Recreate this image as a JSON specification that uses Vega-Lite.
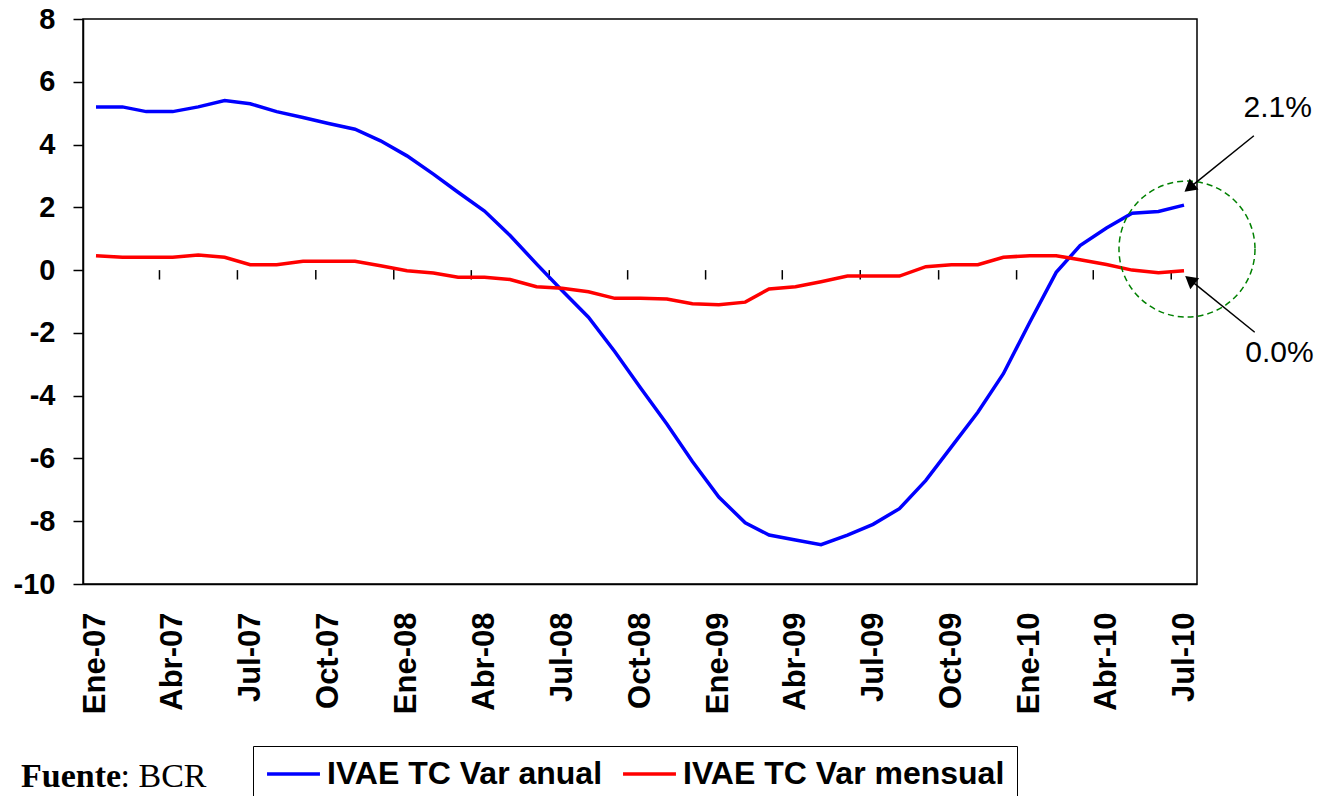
{
  "$schema": "https://vega.github.io/schema/vega-lite/v6.json",
  "autosize": "none",
  "padding": {"left": 83, "top": 19, "right": 126, "bottom": 212},
  "width": 1114,
  "height": 565,
  "background": "white",
  "config": {
    "font": "Liberation Sans",
    "view": {"stroke": "black", "strokeWidth": 1.5},
    "axis": {"grid": false, "title": null}
  },
  "datasets": {
    "ivae": [
      {"fecha": "2007-01-01", "IVAE TC Var anual": 5.2, "IVAE TC Var mensual": 0.46},
      {"fecha": "2007-02-01", "IVAE TC Var anual": 5.2, "IVAE TC Var mensual": 0.41},
      {"fecha": "2007-03-01", "IVAE TC Var anual": 5.05, "IVAE TC Var mensual": 0.41},
      {"fecha": "2007-04-01", "IVAE TC Var anual": 5.05, "IVAE TC Var mensual": 0.41},
      {"fecha": "2007-05-01", "IVAE TC Var anual": 5.2, "IVAE TC Var mensual": 0.48},
      {"fecha": "2007-06-01", "IVAE TC Var anual": 5.4, "IVAE TC Var mensual": 0.41},
      {"fecha": "2007-07-01", "IVAE TC Var anual": 5.3, "IVAE TC Var mensual": 0.17},
      {"fecha": "2007-08-01", "IVAE TC Var anual": 5.05, "IVAE TC Var mensual": 0.17},
      {"fecha": "2007-09-01", "IVAE TC Var anual": 4.86, "IVAE TC Var mensual": 0.28},
      {"fecha": "2007-10-01", "IVAE TC Var anual": 4.67, "IVAE TC Var mensual": 0.28},
      {"fecha": "2007-11-01", "IVAE TC Var anual": 4.49, "IVAE TC Var mensual": 0.28},
      {"fecha": "2007-12-01", "IVAE TC Var anual": 4.12, "IVAE TC Var mensual": 0.14},
      {"fecha": "2008-01-01", "IVAE TC Var anual": 3.64, "IVAE TC Var mensual": -0.02},
      {"fecha": "2008-02-01", "IVAE TC Var anual": 3.06, "IVAE TC Var mensual": -0.09},
      {"fecha": "2008-03-01", "IVAE TC Var anual": 2.48, "IVAE TC Var mensual": -0.23},
      {"fecha": "2008-04-01", "IVAE TC Var anual": 1.88, "IVAE TC Var mensual": -0.23},
      {"fecha": "2008-05-01", "IVAE TC Var anual": 1.1, "IVAE TC Var mensual": -0.3},
      {"fecha": "2008-06-01", "IVAE TC Var anual": 0.2, "IVAE TC Var mensual": -0.53},
      {"fecha": "2008-07-01", "IVAE TC Var anual": -0.65, "IVAE TC Var mensual": -0.58},
      {"fecha": "2008-08-01", "IVAE TC Var anual": -1.5, "IVAE TC Var mensual": -0.69},
      {"fecha": "2008-09-01", "IVAE TC Var anual": -2.6, "IVAE TC Var mensual": -0.9},
      {"fecha": "2008-10-01", "IVAE TC Var anual": -3.75, "IVAE TC Var mensual": -0.9},
      {"fecha": "2008-11-01", "IVAE TC Var anual": -4.9, "IVAE TC Var mensual": -0.92},
      {"fecha": "2008-12-01", "IVAE TC Var anual": -6.1, "IVAE TC Var mensual": -1.07},
      {"fecha": "2009-01-01", "IVAE TC Var anual": -7.23, "IVAE TC Var mensual": -1.1},
      {"fecha": "2009-02-01", "IVAE TC Var anual": -8.05, "IVAE TC Var mensual": -1.02},
      {"fecha": "2009-03-01", "IVAE TC Var anual": -8.44, "IVAE TC Var mensual": -0.6},
      {"fecha": "2009-04-01", "IVAE TC Var anual": -8.6, "IVAE TC Var mensual": -0.53},
      {"fecha": "2009-05-01", "IVAE TC Var anual": -8.75, "IVAE TC Var mensual": -0.37},
      {"fecha": "2009-06-01", "IVAE TC Var anual": -8.44, "IVAE TC Var mensual": -0.19},
      {"fecha": "2009-07-01", "IVAE TC Var anual": -8.1, "IVAE TC Var mensual": -0.19},
      {"fecha": "2009-08-01", "IVAE TC Var anual": -7.6, "IVAE TC Var mensual": -0.19},
      {"fecha": "2009-09-01", "IVAE TC Var anual": -6.7, "IVAE TC Var mensual": 0.11},
      {"fecha": "2009-10-01", "IVAE TC Var anual": -5.63, "IVAE TC Var mensual": 0.17},
      {"fecha": "2009-11-01", "IVAE TC Var anual": -4.53, "IVAE TC Var mensual": 0.17},
      {"fecha": "2009-12-01", "IVAE TC Var anual": -3.3, "IVAE TC Var mensual": 0.41},
      {"fecha": "2010-01-01", "IVAE TC Var anual": -1.66, "IVAE TC Var mensual": 0.46},
      {"fecha": "2010-02-01", "IVAE TC Var anual": -0.07, "IVAE TC Var mensual": 0.46},
      {"fecha": "2010-03-01", "IVAE TC Var anual": 0.78, "IVAE TC Var mensual": 0.33},
      {"fecha": "2010-04-01", "IVAE TC Var anual": 1.34, "IVAE TC Var mensual": 0.18},
      {"fecha": "2010-05-01", "IVAE TC Var anual": 1.81, "IVAE TC Var mensual": 0.0},
      {"fecha": "2010-06-01", "IVAE TC Var anual": 1.87, "IVAE TC Var mensual": -0.08},
      {"fecha": "2010-07-01", "IVAE TC Var anual": 2.07, "IVAE TC Var mensual": -0.02}
    ]
  },
  "encoding": {
    "x": {
      "type": "temporal",
      "scale": {
        "type": "utc",
        "domain": [
          {"year": 2006, "month": 12, "date": 16, "hours": 18, "utc": true},
          {"year": 2010, "month": 7, "date": 16, "hours": 6, "utc": true}
        ]
      },
      "axis": {
        "orient": "bottom",
        "tickCount": {"interval": "month", "step": 3},
        "labelExpr": "['Ene','Feb','Mar','Abr','May','Jun','Jul','Ago','Sep','Oct','Nov','Dic'][utcmonth(datum.value)] + '-' + utcFormat(datum.value, '%y')",
        "labelAngle": 270,
        "ticks": false,
        "tickSize": 0,
        "labelPadding": 28,
        "labelFont": "Liberation Sans",
        "labelFontSize": 31,
        "labelFontWeight": "bold",
        "labelColor": "black",
        "labelOverlap": false,
        "labelFlush": false,
        "labelBound": false,
        "domainColor": "black",
        "domainWidth": 1.5
      }
    },
    "y": {
      "type": "quantitative",
      "scale": {"domain": [-10, 8], "nice": false, "zero": false},
      "axis": {
        "values": [-10, -8, -6, -4, -2, 0, 2, 4, 6, 8],
        "labelExpr": "'' + datum.value",
        "tickSize": 10,
        "tickColor": "black",
        "tickWidth": 1.5,
        "domainColor": "black",
        "domainWidth": 1.5,
        "labelPadding": 18,
        "labelFont": "Liberation Sans",
        "labelFontSize": 29,
        "labelFontWeight": "bold",
        "labelColor": "black"
      }
    }
  },
  "layer": [
    {
      "mark": {"type": "rule", "color": "black", "strokeWidth": 1.5},
      "encoding": {"y": {"datum": 0, "type": "quantitative"}}
    },
    {
      "data": {"name": "ivae"},
      "transform": [
        {"filter": "indexof([2,5,8,11], utcmonth(toDate(datum.fecha))) >= 0"}
      ],
      "mark": {"type": "rule", "color": "black", "strokeWidth": 1.5},
      "encoding": {
        "x": {"field": "fecha", "type": "temporal", "timeUnit": "utcyearmonth", "bandPosition": 0.5},
        "y": {"datum": 0, "type": "quantitative"},
        "y2": {"datum": -0.3}
      }
    },
    {
      "data": {"name": "ivae"},
      "transform": [
        {"fold": ["IVAE TC Var anual", "IVAE TC Var mensual"], "as": ["serie", "valor"]}
      ],
      "mark": {"type": "line", "strokeWidth": 3.5},
      "encoding": {
        "x": {"field": "fecha", "type": "temporal"},
        "y": {"field": "valor", "type": "quantitative"},
        "color": {
          "field": "serie",
          "type": "nominal",
          "scale": {"domain": ["IVAE TC Var anual", "IVAE TC Var mensual"], "range": ["#0000FF", "#FF0000"]},
          "legend": {
            "title": null,
            "orient": "none",
            "legendX": 170,
            "legendY": 727,
            "direction": "horizontal",
            "strokeColor": "black",
            "fillColor": "white",
            "padding": 12,
            "symbolType": "stroke",
            "symbolSize": 2800,
            "symbolStrokeWidth": 3.5,
            "clipHeight": 32,
            "labelFont": "Liberation Sans",
            "labelFontSize": 32,
            "labelFontWeight": "bold",
            "labelColor": "black",
            "labelOffset": 5,
            "columnPadding": 18,
            "labelLimit": 500
          }
        }
      }
    },
    {
      "data": {"values": [{"fecha": "2010-07-04T12:00:00Z", "valor": 0.67}]},
      "mark": {"type": "point", "shape": "circle", "size": 18500, "filled": false, "stroke": "#008000", "strokeWidth": 1.5, "strokeDash": [6, 4], "opacity": 1},
      "encoding": {
        "x": {"field": "fecha", "type": "temporal"},
        "y": {"field": "valor", "type": "quantitative"}
      }
    },
    {
      "data": {"values": [
        {"desde": "2010-09-21T00:00:00Z", "y1": 4.28, "hasta": "2010-07-07T05:00:00Z", "y2": 2.62},
        {"desde": "2010-09-22T00:00:00Z", "y1": -1.98, "hasta": "2010-07-08T00:00:00Z", "y2": -0.31}
      ]},
      "mark": {"type": "rule", "color": "black", "strokeWidth": 1.5},
      "encoding": {
        "x": {"field": "desde", "type": "temporal"},
        "x2": {"field": "hasta"},
        "y": {"field": "y1", "type": "quantitative"},
        "y2": {"field": "y2"}
      }
    },
    {
      "data": {"values": [{"fecha": "2010-07-07T05:00:00Z", "valor": 2.62}]},
      "mark": {"type": "point", "shape": "triangle-up", "filled": true, "color": "black", "size": 200, "angle": 231, "opacity": 1},
      "encoding": {
        "x": {"field": "fecha", "type": "temporal"},
        "y": {"field": "valor", "type": "quantitative"}
      }
    },
    {
      "data": {"values": [{"fecha": "2010-07-08T00:00:00Z", "valor": -0.31}]},
      "mark": {"type": "point", "shape": "triangle-up", "filled": true, "color": "black", "size": 200, "angle": 309, "opacity": 1},
      "encoding": {
        "x": {"field": "fecha", "type": "temporal"},
        "y": {"field": "valor", "type": "quantitative"}
      }
    },
    {
      "data": {"values": [
        {"fecha": "2010-10-19T00:00:00Z", "valor": 4.89, "texto": "2.1%"},
        {"fecha": "2010-10-21T00:00:00Z", "valor": -2.92, "texto": "0.0%"}
      ]},
      "mark": {"type": "text", "font": "Liberation Sans", "fontSize": 30, "align": "center", "baseline": "alphabetic", "color": "black"},
      "encoding": {
        "x": {"field": "fecha", "type": "temporal"},
        "y": {"field": "valor", "type": "quantitative"},
        "text": {"field": "texto"}
      }
    },
    {
      "data": {"values": [{"fecha": "2006-10-05T00:00:00Z", "valor": -16.46, "texto": "Fuente"}]},
      "mark": {"type": "text", "font": "Liberation Serif", "fontSize": 34, "fontWeight": "bold", "align": "left", "baseline": "alphabetic", "color": "black"},
      "encoding": {
        "x": {"field": "fecha", "type": "temporal"},
        "y": {"field": "valor", "type": "quantitative"},
        "text": {"field": "texto"}
      }
    },
    {
      "data": {"values": [{"fecha": "2007-01-29T19:00:00Z", "valor": -16.46, "texto": ": BCR"}]},
      "mark": {"type": "text", "font": "Liberation Serif", "fontSize": 34, "align": "left", "baseline": "alphabetic", "color": "black"},
      "encoding": {
        "x": {"field": "fecha", "type": "temporal"},
        "y": {"field": "valor", "type": "quantitative"},
        "text": {"field": "texto"}
      }
    }
  ]
}
